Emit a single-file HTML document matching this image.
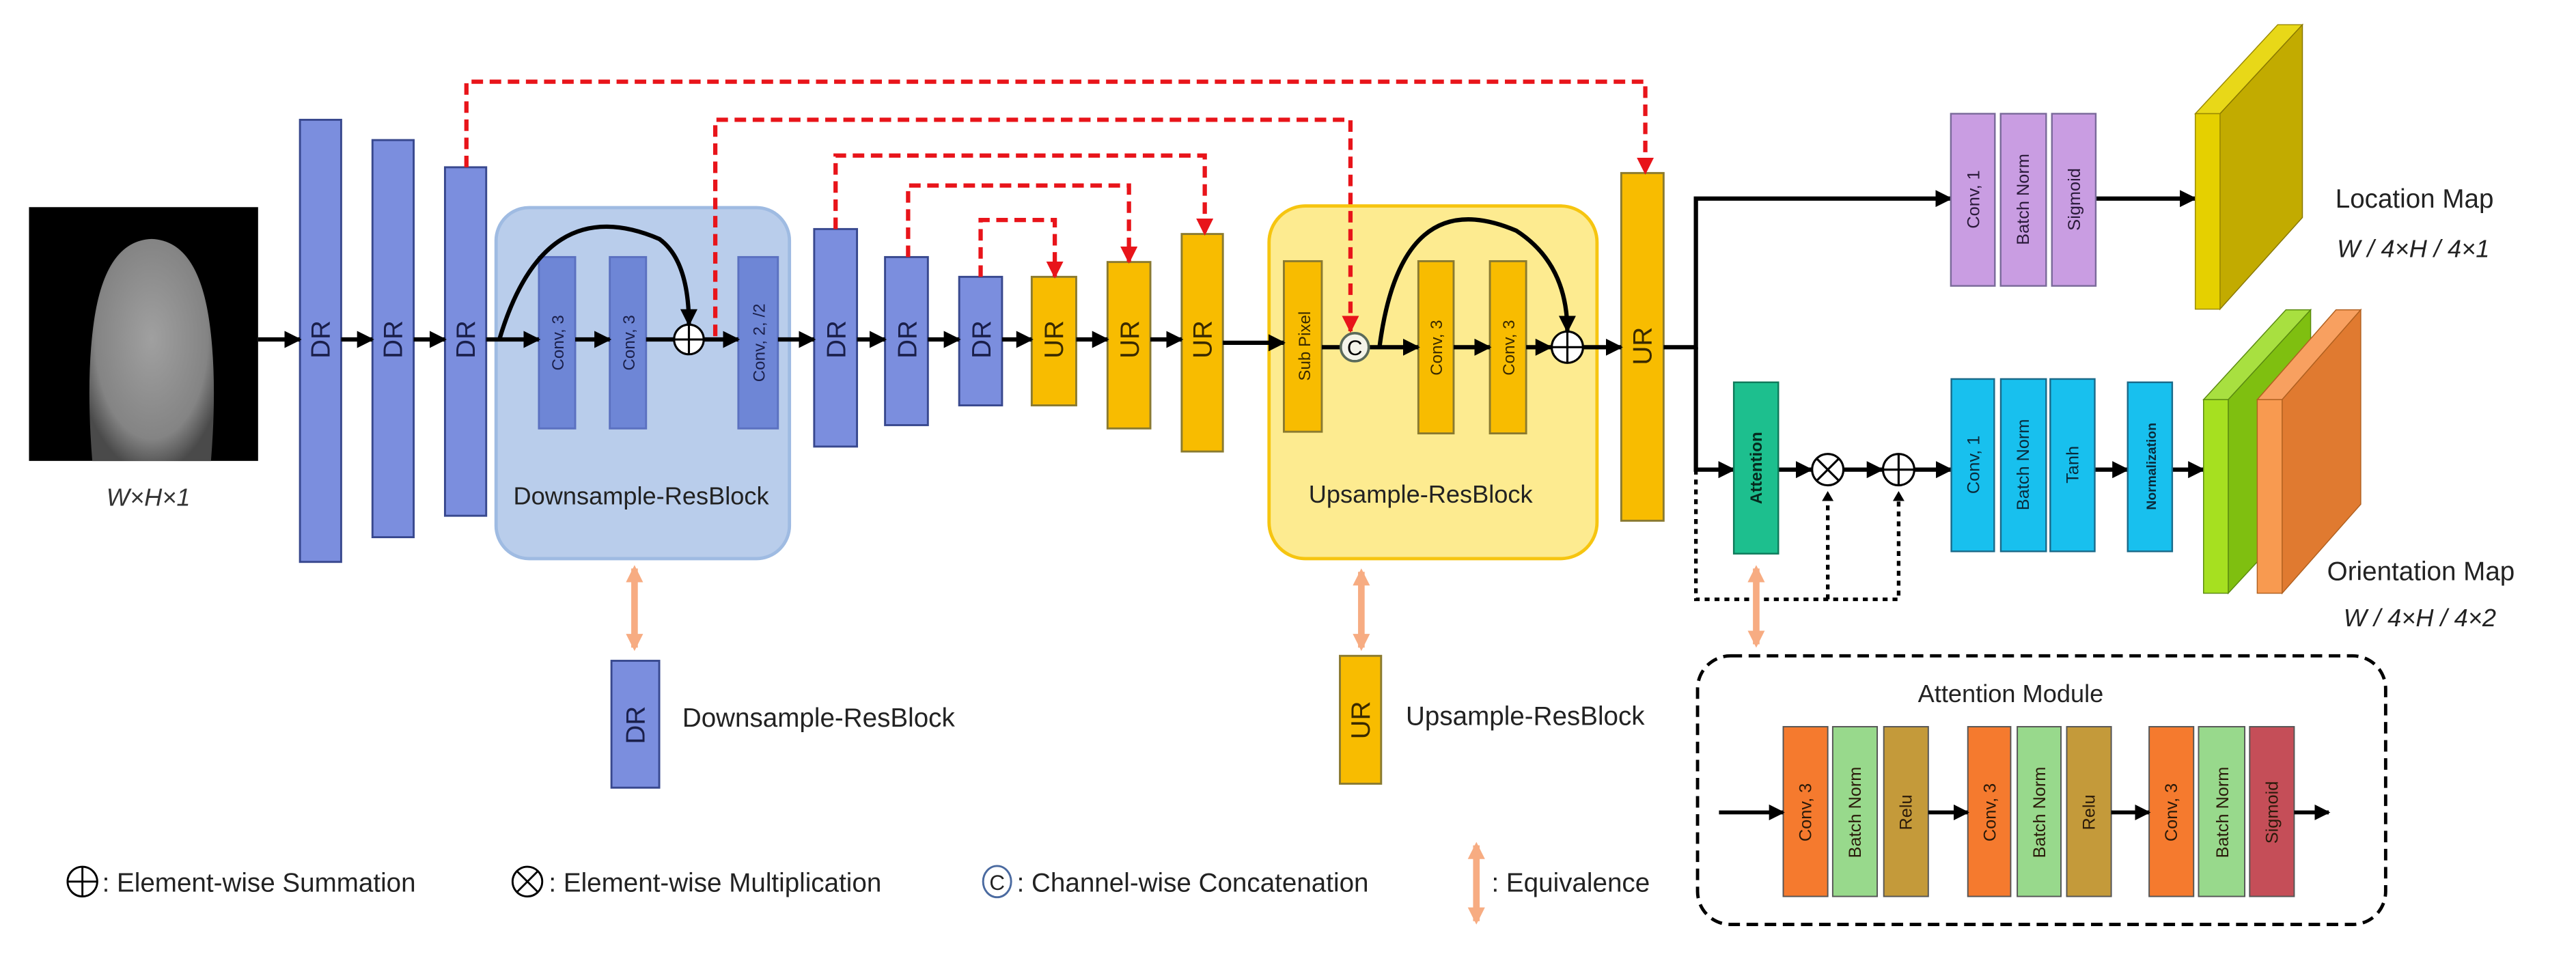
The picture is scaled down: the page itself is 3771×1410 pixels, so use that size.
<!DOCTYPE html>
<html><head><meta charset="utf-8"><style>
html,body{margin:0;padding:0;background:#fff}
svg{display:block}
text{font-family:"Liberation Sans",sans-serif}
</style></head><body>
<svg width="3771" height="1410" viewBox="0 0 1563 584.4" preserveAspectRatio="none" xmlns="http://www.w3.org/2000/svg">
<defs>
<marker id="ab" viewBox="0 0 10 10" refX="9" refY="5" markerWidth="4" markerHeight="4" orient="auto"><path d="M0,0L10,5L0,10z" fill="#000"/></marker>
<marker id="ar" viewBox="0 0 10 10" refX="9" refY="5" markerWidth="4" markerHeight="4" orient="auto"><path d="M0,0L10,5L0,10z" fill="#e8141a"/></marker>
<marker id="ao" viewBox="0 0 10 10" refX="8" refY="5" markerWidth="2.6" markerHeight="2.6" orient="auto-start-reverse"><path d="M0,0L10,5L0,10z" fill="#f7ac82"/></marker>
<radialGradient id="fp" cx="0.5" cy="0.45" r="0.6"><stop offset="0" stop-color="#a0a0a0"/><stop offset="0.75" stop-color="#848484"/><stop offset="1" stop-color="#4a4a4a"/></radialGradient>
</defs>

<!-- fingerprint -->
<rect x="17.6" y="125.7" width="139" height="154" fill="#000"/>
<path d="M56,279.8 Q52,230 57,195 Q64,146 92,145 Q120,146 127,195 Q132,230 128,279.8 Z" fill="url(#fp)"/>
<text x="90" y="307" font-size="15" font-style="italic" text-anchor="middle" fill="#333">W×H×1</text>

<!-- downsample box -->
<rect x="301" y="126" width="178" height="213" rx="20" fill="#b9cdeb" stroke="#9fbbe2" stroke-width="2"/>
<!-- upsample box -->
<rect x="770" y="125" width="199" height="214" rx="22" fill="#fdeb90" stroke="#f6c510" stroke-width="2"/>

<g stroke="#38488e" stroke-width="1.2" fill="#7b8ede">
<rect x="182" y="72.7" width="25" height="268.3"/>
<rect x="226" y="85" width="25" height="241"/>
<rect x="270" y="101.5" width="25" height="211.5"/>
<rect x="494" y="139" width="26" height="132"/>
<rect x="537" y="156" width="26" height="102"/>
<rect x="582" y="168" width="26" height="78"/>
<rect x="327" y="156" width="22" height="104" fill="#6e86d6" stroke="#5b71c0"/>
<rect x="370" y="156" width="22" height="104" fill="#6e86d6" stroke="#5b71c0"/>
<rect x="448" y="156" width="24" height="104" fill="#6e86d6" stroke="#5b71c0"/>
<rect x="371" y="401" width="29" height="77"/>
</g>
<g stroke="#8a7a30" stroke-width="1.2" fill="#f8bc00">
<rect x="626" y="168" width="27" height="78"/>
<rect x="672" y="159" width="26" height="101"/>
<rect x="717" y="142" width="25" height="132"/>
<rect x="779" y="158.5" width="23" height="103.5"/>
<rect x="860.6" y="158.5" width="21.4" height="104.5"/>
<rect x="904" y="158.5" width="22" height="104.5"/>
<rect x="983.7" y="105" width="25.7" height="211"/>
<rect x="813" y="398" width="25" height="77.6"/>
</g>

<g font-size="16" fill="#1a1f4a" text-anchor="middle">
<text transform="translate(200,206) rotate(-90)">DR</text>
<text transform="translate(244,206) rotate(-90)">DR</text>
<text transform="translate(288,206) rotate(-90)">DR</text>
<text transform="translate(513,206) rotate(-90)">DR</text>
<text transform="translate(556,206) rotate(-90)">DR</text>
<text transform="translate(601,206) rotate(-90)">DR</text>
<text transform="translate(391,440) rotate(-90)">DR</text>
</g>
<g font-size="16" fill="#3a2a00" text-anchor="middle">
<text transform="translate(645,206) rotate(-90)">UR</text>
<text transform="translate(691,206) rotate(-90)">UR</text>
<text transform="translate(735,206) rotate(-90)">UR</text>
<text transform="translate(1002,210) rotate(-90)">UR</text>
<text transform="translate(831,437) rotate(-90)">UR</text>
</g>
<g font-size="10" fill="#1a1f4a" text-anchor="middle">
<text transform="translate(342,208) rotate(-90)">Conv, 3</text>
<text transform="translate(385,208) rotate(-90)">Conv, 3</text>
<text transform="translate(464,208) rotate(-90)">Conv, 2, /2</text>
</g>
<g font-size="10" fill="#3a2a00" text-anchor="middle">
<text transform="translate(795,210) rotate(-90)">Sub Pixel</text>
<text transform="translate(875,211) rotate(-90)">Conv, 3</text>
<text transform="translate(919,211) rotate(-90)">Conv, 3</text>
</g>

<text x="389" y="306" font-size="15" text-anchor="middle" fill="#222">Downsample-ResBlock</text>
<text x="862" y="305" font-size="15" text-anchor="middle" fill="#222">Upsample-ResBlock</text>
<text x="414" y="441" font-size="16" fill="#222">Downsample-ResBlock</text>
<text x="853" y="440" font-size="16" fill="#222">Upsample-ResBlock</text>

<!-- main black arrows -->
<g stroke="#000" stroke-width="2.6" fill="none" marker-end="url(#ab)">
<line x1="156.6" y1="206" x2="182" y2="206"/>
<line x1="207" y1="206" x2="226" y2="206"/>
<line x1="251" y1="206" x2="270" y2="206"/>
<line x1="295" y1="206" x2="327" y2="206"/>
<line x1="349" y1="206" x2="370" y2="206"/>
<line x1="392" y1="206" x2="448" y2="206"/>
<line x1="472" y1="206" x2="494" y2="206"/>
<line x1="520" y1="206" x2="537" y2="206"/>
<line x1="563" y1="206" x2="582" y2="206"/>
<line x1="608" y1="206" x2="626" y2="206"/>
<line x1="653" y1="206" x2="672" y2="206"/>
<line x1="698" y1="206" x2="717" y2="206"/>
<line x1="742" y1="208" x2="779" y2="208"/>
<line x1="830.5" y1="210.7" x2="860.6" y2="210.7"/>
<line x1="882" y1="210.7" x2="904" y2="210.7"/>
<line x1="926" y1="210.7" x2="941" y2="210.7"/>
<line x1="961" y1="210.7" x2="983.7" y2="210.7"/>
<path d="M303,206 Q330,115 400,145 Q418,158 418,197"/>
<path d="M837,210.7 Q850,110 920,140 Q951,160 951,201"/>
<path d="M1009.4,210.7 H1029 V120.5 H1183.7"/>
<line x1="1271.6" y1="120.5" x2="1332" y2="120.5"/>
<path d="M1029,210.7 V285 H1052"/>
<line x1="1079" y1="285" x2="1099" y2="285"/>
<line x1="1119" y1="285" x2="1142" y2="285"/>
<line x1="1162" y1="285" x2="1184" y2="285"/>
<line x1="1271" y1="285" x2="1291" y2="285"/>
<line x1="1318" y1="285" x2="1337" y2="285"/>
</g>
<line x1="802" y1="210.7" x2="813.5" y2="210.7" stroke="#000" stroke-width="2.6"/>

<!-- circles -->
<g fill="#fff" stroke="#000" stroke-width="1.3">
<circle cx="418" cy="206" r="9"/>
<circle cx="951" cy="210.7" r="9.5"/>
<circle cx="1109" cy="285" r="9.5"/>
<circle cx="1152" cy="285" r="9.5"/>
</g>
<g stroke="#000" stroke-width="1.3">
<path d="M409,206H427M418,197V215"/>
<path d="M941.5,210.7H960.5M951,201.2V220.2"/>
<path d="M1142.5,285H1161.5M1152,275.5V294.5"/>
<path d="M1102.3,278.3L1115.7,291.7M1115.7,278.3L1102.3,291.7"/>
</g>
<circle cx="822" cy="210.7" r="8.5" fill="#f4f4ea" stroke="#5a6a5a" stroke-width="1.5"/>
<text x="822" y="215.5" font-size="13" text-anchor="middle">C</text>

<!-- red dashed skip connections -->
<g stroke="#e8141a" stroke-width="2.6" fill="none" stroke-dasharray="7,4" marker-end="url(#ar)">
<path d="M283,101.5 V49.6 H998.3 V105"/>
<path d="M434,204 V72.7 H819.4 V201"/>
<path d="M507,139 V94.4 H731 V142"/>
<path d="M551,156 V112.6 H685 V159"/>
<path d="M595,168 V133.5 H640 V168"/>
</g>

<!-- purple -->
<g stroke="#7a6a9a" stroke-width="1" fill="#c99de2">
<rect x="1183.7" y="69" width="26.7" height="104.5"/>
<rect x="1213.9" y="69" width="27.6" height="104.5"/>
<rect x="1245" y="69" width="26.6" height="104.5"/>
</g>
<g font-size="10.5" fill="#2a1a3a" text-anchor="middle">
<text transform="translate(1201,121) rotate(-90)">Conv, 1</text>
<text transform="translate(1231,121) rotate(-90)">Batch Norm</text>
<text transform="translate(1262,121) rotate(-90)">Sigmoid</text>
</g>

<!-- location map slab -->
<polygon points="1332,69 1382,15 1397,15 1347,69" fill="#e8d818" stroke="#998800" stroke-width="0.6"/>
<polygon points="1347,69 1397,15 1397,132 1347,187.6" fill="#c2ab00" stroke="#887700" stroke-width="0.6"/>
<rect x="1332" y="69" width="15" height="118.6" fill="#e5d000" stroke="#998800" stroke-width="0.6"/>
<text x="1417" y="126" font-size="16" fill="#222">Location Map</text>
<text x="1418" y="156" font-size="15" font-style="italic" fill="#222">W / 4×H / 4×1</text>

<!-- attention & cyan -->
<rect x="1052" y="232" width="27" height="104" fill="#1dbf8e" stroke="#0e7a5a" stroke-width="1"/>
<text transform="translate(1069,284) rotate(-90)" font-size="10" font-weight="bold" text-anchor="middle" fill="#062a1e">Attention</text>
<g stroke="#1a6a8a" stroke-width="1" fill="#18c0ee">
<rect x="1184" y="230" width="26" height="104.6"/>
<rect x="1214" y="230" width="27.5" height="104.6"/>
<rect x="1244" y="230" width="27" height="104.6"/>
<rect x="1291" y="232" width="27" height="102.6"/>
</g>
<g font-size="10.5" fill="#0a2a3a" text-anchor="middle">
<text transform="translate(1201,282) rotate(-90)">Conv, 1</text>
<text transform="translate(1231,282) rotate(-90)">Batch Norm</text>
<text transform="translate(1261,282) rotate(-90)">Tanh</text>
<text transform="translate(1308,283) rotate(-90)" font-size="8" font-weight="bold">Normalization</text>
</g>

<!-- orientation slabs -->
<polygon points="1337,242.5 1387,188 1402,188 1352,242.5" fill="#a8e040" stroke="#5a8a10" stroke-width="0.6"/>
<polygon points="1352,242.5 1402,188 1402,306 1352,360" fill="#7fbf10" stroke="#5a8a10" stroke-width="0.6"/>
<rect x="1337" y="242.5" width="15" height="117.5" fill="#a6e020" stroke="#5a8a10" stroke-width="0.6"/>
<polygon points="1369.6,242.5 1417.4,188 1432.4,188 1384.7,242.5" fill="#f8a060" stroke="#b06020" stroke-width="0.6"/>
<polygon points="1384.7,242.5 1432.4,188 1432.4,306 1384.7,360" fill="#e07a30" stroke="#b06020" stroke-width="0.6"/>
<rect x="1369.6" y="242.5" width="15.1" height="117.5" fill="#f89a50" stroke="#b06020" stroke-width="0.6"/>
<text x="1412" y="352" font-size="16" fill="#222">Orientation Map</text>
<text x="1422" y="380" font-size="15" font-style="italic" fill="#222">W / 4×H / 4×2</text>

<!-- dotted -->
<g stroke="#000" stroke-width="2.2" fill="none" stroke-dasharray="3,3">
<path d="M1029,285 V363.7 H1152 V301"/>
<path d="M1109,363.7 V301"/>
</g>
<path d="M1109,298 l-3.5,6 h7z M1152,298 l-3.5,6 h7z" fill="#000"/>

<!-- orange equivalence arrows -->
<g stroke="#f7ac82" stroke-width="4" marker-start="url(#ao)" marker-end="url(#ao)">
<line x1="385" y1="345" x2="385" y2="393"/>
<line x1="826" y1="347" x2="826" y2="393"/>
<line x1="1065.6" y1="345" x2="1065.6" y2="391"/>
<line x1="895.8" y1="513" x2="895.8" y2="559"/>
</g>

<!-- attention module -->
<rect x="1030" y="398" width="417.5" height="163" rx="20" fill="none" stroke="#000" stroke-width="2" stroke-dasharray="7,4"/>
<text x="1220" y="426" font-size="15" text-anchor="middle" fill="#222">Attention Module</text>
<g stroke="#555" stroke-width="0.8">
<rect x="1082" y="441" width="27" height="103" fill="#f57a2e"/>
<rect x="1112" y="441" width="27" height="103" fill="#98d98c"/>
<rect x="1143" y="441" width="27" height="103" fill="#c49a3a"/>
<rect x="1194" y="441" width="26" height="103" fill="#f57a2e"/>
<rect x="1224" y="441" width="26.5" height="103" fill="#98d98c"/>
<rect x="1254" y="441" width="27" height="103" fill="#c49a3a"/>
<rect x="1304" y="441" width="27" height="103" fill="#f57a2e"/>
<rect x="1334" y="441" width="28" height="103" fill="#98d98c"/>
<rect x="1365" y="441" width="27" height="103" fill="#c54e58"/>
</g>
<g font-size="10.5" fill="#2a1a0a" text-anchor="middle">
<text transform="translate(1099,493) rotate(-90)">Conv, 3</text>
<text transform="translate(1129,493) rotate(-90)">Batch Norm</text>
<text transform="translate(1160,493) rotate(-90)">Relu</text>
<text transform="translate(1211,493) rotate(-90)">Conv, 3</text>
<text transform="translate(1241,493) rotate(-90)">Batch Norm</text>
<text transform="translate(1271,493) rotate(-90)">Relu</text>
<text transform="translate(1321,493) rotate(-90)">Conv, 3</text>
<text transform="translate(1352,493) rotate(-90)">Batch Norm</text>
<text transform="translate(1382,493) rotate(-90)">Sigmoid</text>
</g>
<g stroke="#000" stroke-width="2.4" marker-end="url(#ab)">
<line x1="1043" y1="493" x2="1082" y2="493"/>
<line x1="1170" y1="493" x2="1194" y2="493"/>
<line x1="1281" y1="493" x2="1304" y2="493"/>
<line x1="1392" y1="493" x2="1413" y2="493"/>
</g>

<!-- legend -->
<circle cx="50" cy="535" r="9" fill="none" stroke="#000" stroke-width="1.2"/>
<path d="M41,535H59M50,526V544" stroke="#000" stroke-width="1.2"/>
<text x="62" y="541" font-size="16" fill="#222">: Element-wise Summation</text>
<circle cx="320" cy="535" r="9" fill="none" stroke="#000" stroke-width="1.2"/>
<path d="M313.6,528.6L326.4,541.4M326.4,528.6L313.6,541.4" stroke="#000" stroke-width="1.2"/>
<text x="333" y="541" font-size="16" fill="#222">: Element-wise Multiplication</text>
<ellipse cx="605" cy="535" rx="8.5" ry="9.5" fill="none" stroke="#4a6aa0" stroke-width="1.2"/>
<text x="605" y="540" font-size="13" text-anchor="middle" fill="#222">C</text>
<text x="617" y="541" font-size="16" fill="#222">: Channel-wise Concatenation</text>
<text x="905" y="541" font-size="16" fill="#222">: Equivalence</text>
</svg>
</body></html>
